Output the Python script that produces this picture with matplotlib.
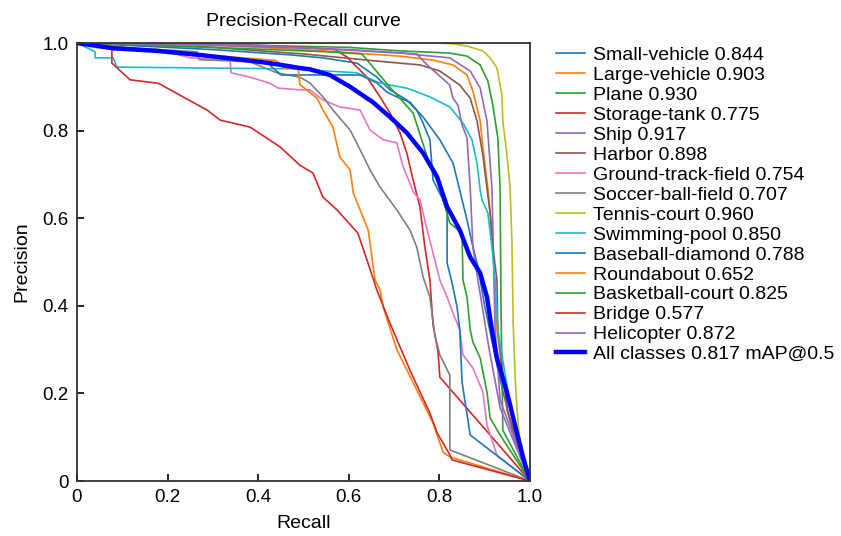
import matplotlib
matplotlib.use("Agg")
import matplotlib.pyplot as plt
from matplotlib.ticker import FuncFormatter

plt.rcParams['font.family'] = ['Liberation Sans', 'DejaVu Sans']

names = ["Small-vehicle", "Large-vehicle", "Plane", "Storage-tank", "Ship", "Harbor",
         "Ground-track-field", "Soccer-ball-field", "Tennis-court", "Swimming-pool",
         "Baseball-diamond", "Roundabout", "Basketball-court", "Bridge", "Helicopter"]
ap = [0.844, 0.903, 0.930, 0.775, 0.917, 0.898, 0.754, 0.707, 0.960, 0.850,
      0.788, 0.652, 0.825, 0.577, 0.872]
map50 = 0.817

small_vehicle_r = [0, 0.1, 0.3, 0.47, 0.543, 0.618, 0.662, 0.691, 0.728, 0.764, 0.801, 0.83, 0.845, 0.85, 0.861, 0.874, 0.885, 0.9, 0.93, 0.96, 1.0]
small_vehicle_p = [1.0, 0.995, 0.985, 0.973, 0.966, 0.954, 0.922, 0.893, 0.87, 0.831, 0.779, 0.726, 0.664, 0.642, 0.596, 0.534, 0.489, 0.40, 0.25, 0.12, 0.0]

large_vehicle_r = [0, 0.3, 0.5, 0.713, 0.786, 0.83, 0.861, 0.874, 0.89, 0.896, 0.907, 0.912, 0.918, 0.923, 0.927, 0.95, 1.0]
large_vehicle_p = [1.0, 0.995, 0.985, 0.97, 0.961, 0.95, 0.927, 0.89, 0.822, 0.76, 0.669, 0.612, 0.534, 0.42, 0.345, 0.16, 0.0]

plane_r = [0, 0.3, 0.6, 0.713, 0.823, 0.861, 0.89, 0.907, 0.918, 0.929, 0.934, 0.936, 0.94, 1.0]
plane_p = [1.0, 0.997, 0.99, 0.982, 0.977, 0.97, 0.95, 0.913, 0.858, 0.783, 0.669, 0.4, 0.116, 0.0]

storage_tank_r = [0, 0.3, 0.5, 0.57, 0.596, 0.64, 0.669, 0.691, 0.713, 0.728, 0.742, 0.757, 0.768, 0.779, 0.786, 0.797, 0.801, 0.912, 1.0]
storage_tank_p = [1.0, 0.998, 0.99, 0.985, 0.968, 0.922, 0.877, 0.84, 0.795, 0.749, 0.687, 0.626, 0.534, 0.459, 0.356, 0.295, 0.237, 0.105, 0.0]

ship_r = [0, 0.4, 0.713, 0.823, 0.868, 0.89, 0.905, 0.916, 0.918, 0.923, 0.934, 1.0]
ship_p = [1.0, 0.995, 0.977, 0.966, 0.936, 0.897, 0.822, 0.669, 0.573, 0.345, 0.185, 0.0]

harbor_r = [0, 0.3, 0.5, 0.65, 0.713, 0.757, 0.801, 0.845, 0.868, 0.883, 0.896, 0.905, 0.912, 0.918, 0.927, 0.929, 0.95, 1.0]
harbor_p = [1.0, 0.99, 0.975, 0.96, 0.954, 0.95, 0.936, 0.904, 0.874, 0.822, 0.744, 0.669, 0.612, 0.534, 0.459, 0.345, 0.16, 0.0]

gtf_r = [0, 0.2, 0.25, 0.338, 0.34, 0.382, 0.426, 0.444, 0.492, 0.514, 0.543, 0.58, 0.625, 0.647, 0.676, 0.706, 0.72, 0.735, 0.742, 0.757, 0.773, 0.786, 0.801, 0.817, 0.83, 0.845, 0.852, 0.874, 0.896, 0.905, 0.927, 1.0]
gtf_p = [1.0, 0.98, 0.966, 0.961, 0.932, 0.922, 0.908, 0.897, 0.893, 0.893, 0.87, 0.854, 0.847, 0.801, 0.779, 0.772, 0.717, 0.68, 0.66, 0.642, 0.573, 0.52, 0.459, 0.42, 0.384, 0.345, 0.288, 0.258, 0.203, 0.128, 0.059, 0.0]

sbf_r = [0, 0.1, 0.265, 0.27, 0.382, 0.41, 0.441, 0.492, 0.514, 0.543, 0.565, 0.603, 0.625, 0.647, 0.669, 0.706, 0.735, 0.75, 0.764, 0.779, 0.79, 0.801, 0.823, 0.823, 1.0]
sbf_p = [1.0, 0.99, 0.98, 0.962, 0.957, 0.945, 0.932, 0.922, 0.909, 0.877, 0.847, 0.801, 0.756, 0.71, 0.671, 0.619, 0.573, 0.534, 0.466, 0.42, 0.333, 0.288, 0.242, 0.071, 0.0]

tennis_r = [0, 0.5, 0.8, 0.83, 0.861, 0.896, 0.912, 0.927, 0.938, 0.94, 0.949, 0.956, 0.96, 0.963, 0.967, 0.971, 0.978, 1.0]
tennis_p = [1.0, 1.0, 1.0, 0.998, 0.993, 0.982, 0.966, 0.943, 0.881, 0.822, 0.744, 0.669, 0.55, 0.356, 0.242, 0.167, 0.08, 0.0]

swim_r = [0, 0.04, 0.04, 0.08, 0.088, 0.47, 0.618, 0.662, 0.69, 0.728, 0.779, 0.823, 0.852, 0.872, 0.883, 0.89, 0.894, 0.907, 0.916, 0.923, 0.929, 0.96, 1.0]
swim_p = [1.0, 0.98, 0.966, 0.966, 0.945, 0.941, 0.932, 0.911, 0.904, 0.897, 0.877, 0.854, 0.817, 0.779, 0.726, 0.664, 0.642, 0.612, 0.534, 0.459, 0.345, 0.15, 0.0]

baseball_r = [0, 0.1, 0.3, 0.42, 0.45, 0.625, 0.662, 0.684, 0.706, 0.735, 0.75, 0.764, 0.779, 0.786, 0.808, 0.817, 0.817, 0.828, 0.839, 0.845, 0.85, 0.868, 1.0]
baseball_p = [1.0, 0.99, 0.97, 0.955, 0.927, 0.927, 0.909, 0.888, 0.877, 0.865, 0.847, 0.817, 0.779, 0.687, 0.642, 0.613, 0.498, 0.452, 0.397, 0.345, 0.226, 0.105, 0.0]

roundabout_r = [0, 0.2, 0.44, 0.455, 0.488, 0.492, 0.53, 0.543, 0.565, 0.58, 0.603, 0.61, 0.625, 0.643, 0.651, 0.658, 0.669, 0.676, 0.706, 0.75, 0.786, 0.808, 0.823, 1.0]
roundabout_p = [1.0, 0.98, 0.96, 0.943, 0.943, 0.905, 0.874, 0.847, 0.808, 0.74, 0.71, 0.657, 0.619, 0.573, 0.511, 0.459, 0.436, 0.397, 0.3, 0.208, 0.132, 0.066, 0.055, 0.0]

basketball_r = [0, 0.3, 0.55, 0.629, 0.69, 0.742, 0.773, 0.801, 0.808, 0.823, 0.85, 0.852, 0.861, 0.868, 0.874, 0.89, 0.905, 0.912, 0.934, 1.0]
basketball_p = [1.0, 0.99, 0.98, 0.975, 0.9, 0.84, 0.74, 0.671, 0.642, 0.589, 0.566, 0.459, 0.42, 0.345, 0.317, 0.281, 0.203, 0.144, 0.105, 0.0]

bridge_r = [0, 0.077, 0.077, 0.117, 0.18, 0.234, 0.287, 0.316, 0.382, 0.448, 0.492, 0.521, 0.543, 0.574, 0.62, 0.64, 0.662, 0.691, 0.735, 0.779, 0.795, 0.823, 0.828, 1.0]
bridge_p = [1.0, 0.99, 0.954, 0.916, 0.908, 0.877, 0.847, 0.824, 0.808, 0.763, 0.721, 0.703, 0.648, 0.619, 0.566, 0.505, 0.436, 0.36, 0.253, 0.155, 0.11, 0.06, 0.048, 0.0]

heli_r = [0, 0.3, 0.6, 0.75, 0.773, 0.823, 0.83, 0.841, 0.85, 0.861, 0.868, 0.874, 0.885, 0.91, 0.934, 1.0]
heli_p = [1.0, 0.995, 0.985, 0.975, 0.95, 0.904, 0.874, 0.858, 0.813, 0.783, 0.669, 0.534, 0.459, 0.3, 0.167, 0.0]

all_r = [0, 0.079, 0.177, 0.278, 0.353, 0.426, 0.492, 0.514, 0.558, 0.603, 0.653, 0.691, 0.728, 0.764, 0.795, 0.817, 0.845, 0.868, 0.89, 0.905, 0.916, 0.927, 0.949, 0.963, 0.985, 1.0]
all_p = [1.0, 0.988, 0.982, 0.972, 0.963, 0.954, 0.943, 0.94, 0.927, 0.9, 0.865, 0.831, 0.795, 0.749, 0.694, 0.626, 0.573, 0.511, 0.475, 0.42, 0.345, 0.281, 0.203, 0.144, 0.053, 0.0]

curves = [
    (small_vehicle_r, small_vehicle_p), (large_vehicle_r, large_vehicle_p), (plane_r, plane_p),
    (storage_tank_r, storage_tank_p), (ship_r, ship_p), (harbor_r, harbor_p),
    (gtf_r, gtf_p), (sbf_r, sbf_p), (tennis_r, tennis_p), (swim_r, swim_p),
    (baseball_r, baseball_p), (roundabout_r, roundabout_p), (basketball_r, basketball_p),
    (bridge_r, bridge_p), (heli_r, heli_p),
]
colors = ['tab:blue', 'tab:orange', 'tab:green', 'tab:red', 'tab:purple', 'tab:brown',
          'tab:pink', 'tab:gray', 'tab:olive', 'tab:cyan']

W, H = 841, 536
fig = plt.figure(figsize=(W / 100, H / 100), dpi=100)
ax = fig.add_axes([77 / W, (H - 481) / H, (530 - 77) / W, (481 - 43) / H])

for i, ((r, p), name, a) in enumerate(zip(curves, names, ap)):
    ax.plot(r, p, lw=1.2, color=colors[i % 10], label=f"{name} {a:.3f}")
ax.plot(all_r, all_p, lw=3.2, color='blue', label=f"All classes {map50:.3f} mAP@0.5")

ax.set_xlim(0, 1)
ax.set_ylim(0, 1)
ticks = [0, 0.2, 0.4, 0.6, 0.8, 1.0]
ax.set_xticks(ticks)
ax.set_yticks(ticks)
fmt = FuncFormatter(lambda v, pos: "0" if abs(v) < 1e-9 else f"{v:.1f}")
ax.xaxis.set_major_formatter(fmt)
ax.yaxis.set_major_formatter(fmt)
ax.tick_params(direction='in', length=5, width=1.2, labelsize=13.5, pad=6)
for s in ax.spines.values():
    s.set_linewidth(1.3)
    s.set_color('#333333')

ax.set_xlabel("Recall", fontsize=14, labelpad=6)
ax.set_ylabel("Precision", fontsize=14, labelpad=9)
ax.set_title("Precision-Recall curve", fontsize=14, pad=12)

leg = ax.legend(loc='upper left', bbox_to_anchor=(1.058, 0.992), frameon=False,
                fontsize=14, labelspacing=0.12, handlelength=1.5, handletextpad=0.4,
                borderaxespad=0, borderpad=0)

fig.savefig("out.png", dpi=100)
